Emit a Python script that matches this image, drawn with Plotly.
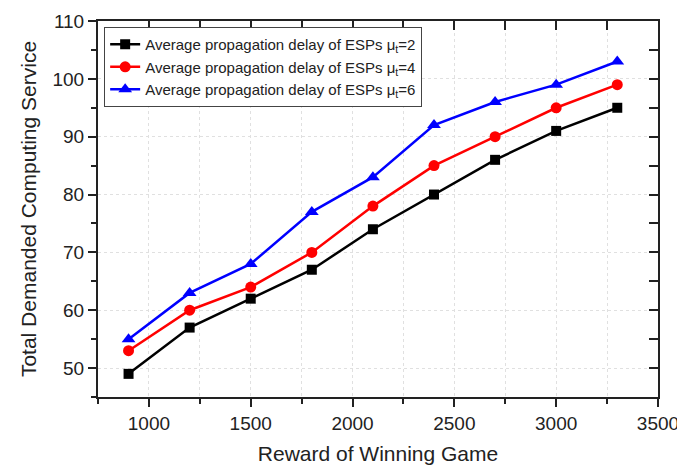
import plotly.graph_objects as go

reward = [900, 1200, 1500, 1800, 2100, 2400, 2700, 3000, 3300]
mu2 = [49, 57, 62, 67, 74, 80, 86, 91, 95]
mu4 = [53, 60, 64, 70, 78, 85, 90, 95, 99]
mu6 = [55, 63, 68, 77, 83, 92, 96, 99, 103]
names = ["Average propagation delay of ESPs μ<sub>t</sub>=2",
         "Average propagation delay of ESPs μ<sub>t</sub>=4",
         "Average propagation delay of ESPs μ<sub>t</sub>=6"]

FONT = "Liberation Sans, Arial, sans-serif"
fig = go.Figure()
series = [(mu2, "#000000", "square", 10), (mu4, "#ff0000", "circle", 11), (mu6, "#0000ff", "triangle-up", 12)]
for (ys, col, sym, sz), nm in zip(series, names):
    fig.add_trace(go.Scatter(x=reward, y=ys, mode="lines+markers", name=nm,
                             line=dict(color=col, width=2.5),
                             marker=dict(symbol=sym, size=sz, color=col)))
# dummy trace for mirrored inside-tick axes
fig.add_trace(go.Scatter(x=[None], y=[None], xaxis="x2", yaxis="y2", showlegend=False, hoverinfo="skip"))

common_x = dict(range=[750, 3500], tickvals=[1000, 1500, 2000, 2500, 3000, 3500], automargin=False)
common_y = dict(range=[45, 110], tickvals=[50, 60, 70, 80, 90, 100, 110], automargin=False)

# page body has an 8px margin, so the figure is sized 677x460 to fill the 685x468 window
fig.update_layout(
    width=677, height=460,
    margin=dict(l=90, r=27, t=13, b=71),
    paper_bgcolor="white", plot_bgcolor="white",
    font=dict(family=FONT, color="#222222"),
    xaxis=dict(**common_x, showline=True, linecolor="#222", linewidth=2,
               ticks="outside", ticklen=8, tickwidth=1.5, tickcolor="#222",
               tickfont=dict(size=19, family=FONT, color="#222"),
               showgrid=True, gridcolor="#e0e0e0", griddash="dot", gridwidth=1,
               minor=dict(dtick=250, tick0=750, ticks="outside", ticklen=5, tickwidth=1.5, tickcolor="#222",
                          showgrid=True, gridcolor="#e0e0e0", griddash="dot"),
               title=dict(text="Reward of Winning Game", font=dict(size=21, family=FONT, color="#222"), standoff=14),
               zeroline=False),
    yaxis=dict(**common_y, showline=True, linecolor="#222", linewidth=2,
               ticks="outside", ticklen=8, tickwidth=1.5, tickcolor="#222",
               tickfont=dict(size=19, family=FONT, color="#222"),
               showgrid=True, gridcolor="#e0e0e0", griddash="dot", gridwidth=1,
               minor=dict(dtick=5, tick0=45, ticks="outside", ticklen=5, tickwidth=1.5, tickcolor="#222"),
               title=dict(text="Total Demanded Computing Service", font=dict(size=21, family=FONT, color="#222"), standoff=10),
               zeroline=False),
    xaxis2=dict(**common_x, overlaying="x", side="top", showline=True, linecolor="#222", linewidth=2,
                ticks="inside", ticklen=9, tickwidth=1.5, tickcolor="#222", showticklabels=False,
                showgrid=False, zeroline=False,
                minor=dict(dtick=250, tick0=750, ticks="inside", ticklen=9, tickwidth=1.5, tickcolor="#222")),
    yaxis2=dict(**common_y, overlaying="y", side="right", showline=True, linecolor="#222", linewidth=2,
                ticks="inside", ticklen=9, tickwidth=1.5, tickcolor="#222", showticklabels=False,
                showgrid=False, zeroline=False,
                minor=dict(dtick=5, tick0=45, ticks="inside", ticklen=9, tickwidth=1.5, tickcolor="#222")),
    legend=dict(x=0.011, y=0.984, xanchor="left", yanchor="top",
                bgcolor="white", bordercolor="#444", borderwidth=1,
                font=dict(size=15, family=FONT, color="#222"),
                tracegroupgap=0, itemwidth=30),
    showlegend=True,
)

fig.write_html("out.html")
